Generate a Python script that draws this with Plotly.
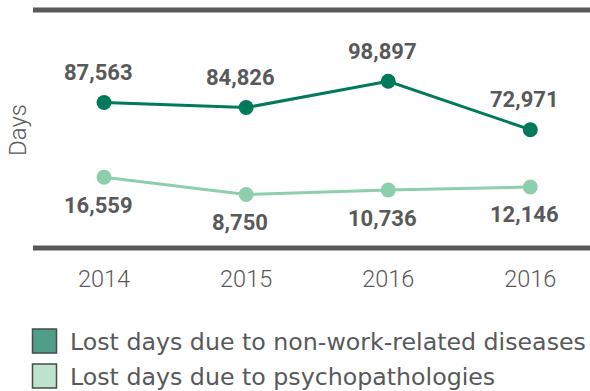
import plotly.graph_objects as go

# Lost working days per year, two causes
years = ["2014", "2015", "2016", "2016"]
non_work_diseases = [87563, 84826, 98897, 72971]
psychopathologies = [16559, 8750, 10736, 12146]
series_names = [
    "Lost days due to non-work-related diseases",
    "Lost days due to psychopathologies",
]

DARK = "#007a5a"
LIGHT = "#8dcfad"
GREY = "#58595b"

W, H = 590, 391
L, R, T, B = 33, 0, 10, 143
PW, PH = W - L - R, H - T - B


def px_x(p):
    return (p - L) / PW


def px_y(p):
    return (H - B - p) / PH


xs = list(range(len(years)))

fig = go.Figure()
fig.add_trace(go.Scatter(
    x=xs, y=non_work_diseases, mode="lines+markers", yaxis="y",
    line=dict(color=DARK, width=3), marker=dict(color=DARK, size=15),
    name=series_names[0], showlegend=False, hoverinfo="skip",
))
fig.add_trace(go.Scatter(
    x=xs, y=psychopathologies, mode="lines+markers", yaxis="y2",
    line=dict(color=LIGHT, width=3), marker=dict(color=LIGHT, size=15),
    name=series_names[1], showlegend=False, hoverinfo="skip",
))

label_font = dict(family="Roboto", size=22, color=GREY, weight="bold")
annotations = []
for x, v in zip(xs, non_work_diseases):
    annotations.append(dict(x=x, y=v, yref="y", text=f"{v:,}", showarrow=False,
                            font=label_font, yshift=30, xshift=-6))
for x, v in zip(xs, psychopathologies):
    annotations.append(dict(x=x, y=v, yref="y2", text=f"{v:,}", showarrow=False,
                            font=label_font, yshift=-28, xshift=-6))

# vertical axis title
annotations.append(dict(x=px_x(18), y=px_y(130), xref="paper", yref="paper",
                        xanchor="center", yanchor="middle",
                        text="Days", textangle=-90, showarrow=False,
                        font=dict(family="Roboto", size=24, color=GREY, weight=300)))

# legend entries
legend_font = dict(family="DejaVu Sans", size=23.7, color=GREY)
swatches = [("#4f9e88", 329, 353), ("#bde3cd", 364, 388)]
shapes = []
for (fill, y0, y1), name in zip(swatches, series_names):
    shapes.append(dict(type="rect", xref="paper", yref="paper",
                       x0=px_x(32.5), x1=px_x(56.5), y0=px_y(y1), y1=px_y(y0),
                       fillcolor=fill, line=dict(color="#4a4a4a", width=1.5)))
    annotations.append(dict(x=px_x(68), y=px_y((y0 + y1) / 2 + 1), xref="paper", yref="paper",
                            text=name, showarrow=False, xanchor="left", yanchor="middle",
                            font=legend_font))

# top and bottom rules of the plot area
for yy in (1, 0):
    shapes.append(dict(type="line", xref="paper", yref="paper", x0=0, x1=1, y0=yy, y1=yy,
                       line=dict(color=GREY, width=5)))

fig.update_layout(
    width=W, height=H,
    margin=dict(l=L, r=R, t=T, b=B),
    paper_bgcolor="white", plot_bgcolor="white",
    xaxis=dict(range=[-0.5, 3.42], tickmode="array", tickvals=xs, ticktext=years,
               showgrid=False, zeroline=False, showline=False, ticks="",
               tickfont=dict(family="Roboto", size=23.5, color=GREY, weight=300),
               ticklabelstandoff=14, fixedrange=True),
    yaxis=dict(range=[9563, 137109], visible=False, fixedrange=True),
    yaxis2=dict(range=[-15387, 91917], overlaying="y", visible=False, fixedrange=True),
    shapes=shapes,
    annotations=annotations,
    showlegend=False,
)

fig.write_html("out.html")
